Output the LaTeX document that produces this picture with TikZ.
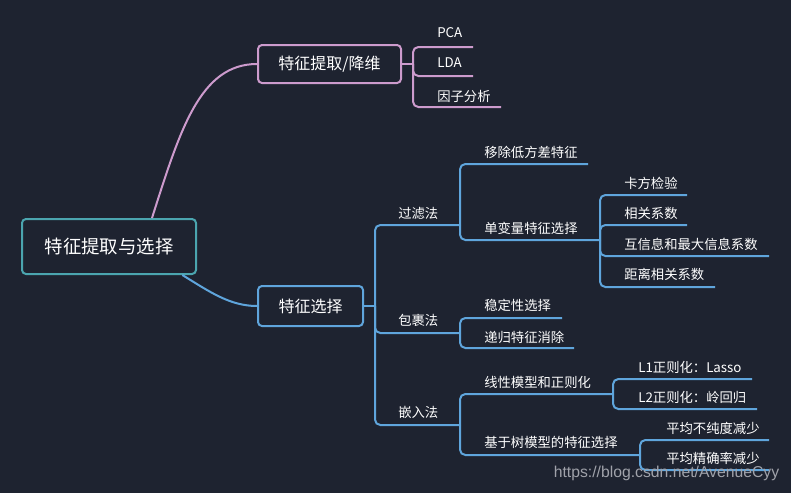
\documentclass[tikz,border=0pt]{standalone}
\usepackage{fontspec}
\setmainfont{Noto Sans CJK SC}
\newfontfamily\wmfont{Liberation Sans}
\definecolor{bg}{RGB}{30,35,48}
\definecolor{pinkc}{RGB}{205,155,205}
\definecolor{bluec}{RGB}{95,165,220}
\definecolor{tealc}{RGB}{75,165,175}
\definecolor{wmc}{RGB}{160,162,170}
\begin{document}
\begin{tikzpicture}[x=0.75pt,y=-0.75pt,
  box/.style={draw,line width=1.5pt,rounded corners=3pt,text=white,inner sep=0,font=\fontsize{12}{14}\selectfont},
  leaf/.style={text=white,font=\fontsize{10}{12}\selectfont,inner sep=0,anchor=west},
  pl/.style={draw=pinkc,line width=1.5pt,rounded corners=4pt},
  bl/.style={draw=bluec,line width=1.5pt,rounded corners=4pt}]
\fill[bg] (0,0) rectangle (791,493);
\useasboundingbox (0,0) rectangle (791,493);

% main boxes
\node[box,draw=tealc,minimum width=130.5pt,minimum height=41.25pt,font=\fontsize{13.8}{16}\selectfont] (root) at (109,246.5) {特征提取与选择};
\node[box,draw=pinkc,minimum width=107.25pt,minimum height=28.5pt] (fe) at (329.5,64) {特征提取/降维};
\node[box,draw=bluec,minimum width=78.75pt,minimum height=30pt] (fs) at (310.5,306) {特征选择};

\draw[pinkc,line width=1.5pt] ([xshift=32.25pt]root.north) .. controls (180,130) and (200,64) .. (fe.west);
\draw[bluec,line width=1.5pt] ([xshift=55pt]root.south) .. controls (210,292) and (230,306) .. (fs.west);

% pink branch
\coordinate (pb) at (413,64);
\coordinate (pcaU) at (473,47);
\coordinate (ldaU) at (473,76);
\coordinate (yzU) at (501,107);
\draw[pl] (fe.east) -- (pb);
\draw[pl] (pb) |- (pcaU);
\draw[pl] (pb) |- (ldaU);
\draw[pl] (pb) |- (yzU);
\node[leaf] (pca) at (437,33) {PCA};
\node[leaf] (lda) at (437,63) {LDA};
\node[leaf] (yz) at (437,96) {因子分析};

% blue level 2
\coordinate (sb) at (375,306);
\coordinate (glU) at (460,225);
\coordinate (bgU) at (460,333);
\coordinate (qrU) at (460,425);
\draw[bl] (fs.east) -- (sb);
\draw[bl] (sb) |- (glU);
\draw[bl] (sb) |- (bgU);
\draw[bl] (sb) |- (qrU);
\node[leaf] (gl) at (398,213) {过滤法};
\node[leaf] (bg) at (398,320) {包裹法};
\node[leaf] (qr) at (398,412) {嵌入法};

% filter children
\coordinate (ycU) at (588,164);
\coordinate (dbU) at (600,240);
\draw[bl] (glU) |- (ycU);
\draw[bl] (glU) |- (dbU);
\node[leaf] (yc) at (484,152) {移除低方差特征};
\node[leaf] (db) at (484,228) {单变量特征选择};

\coordinate (kfU) at (687,195);
\coordinate (xgU) at (687,225);
\coordinate (hxU) at (769,256);
\coordinate (jlU) at (715,287);
\draw[bl] (dbU) |- (kfU);
\draw[bl] (dbU) |- (xgU);
\draw[bl] (dbU) |- (hxU);
\draw[bl] (dbU) |- (jlU);
\node[leaf] (kf) at (624,183) {卡方检验};
\node[leaf] (xg) at (624,213) {相关系数};
\node[leaf] (hx) at (624,244) {互信息和最大信息系数};
\node[leaf] (jl) at (624,274) {距离相关系数};

% wrapper children
\coordinate (wdU) at (562,318);
\coordinate (dgU) at (574,348);
\draw[bl] (bgU) |- (wdU);
\draw[bl] (bgU) |- (dgU);
\node[leaf] (wd) at (484,305) {稳定性选择};
\node[leaf] (dg) at (484,337) {递归特征消除};

% embedded children
\coordinate (xxU) at (613,394);
\coordinate (jyU) at (640,455);
\draw[bl] (qrU) |- (xxU);
\draw[bl] (qrU) |- (jyU);
\node[leaf] (xx) at (484,382) {线性模型和正则化};
\node[leaf] (jy) at (484,442) {基于树模型的特征选择};

\coordinate (l1U) at (752,379);
\coordinate (l2U) at (757,409);
\draw[bl] (xxU) |- (l1U);
\draw[bl] (xxU) |- (l2U);
\node[leaf] (l1) at (638,367) {L1正则化：Lasso};
\node[leaf] (l2) at (638,397) {L2正则化：岭回归};

\coordinate (pjU) at (769,440);
\coordinate (jqU) at (769,470);
\draw[bl] (jyU) |- (pjU);
\draw[bl] (jyU) |- (jqU);
\node[leaf] (pj) at (666,428) {平均不纯度减少};
\node[leaf] (jq) at (666,458) {平均精确率减少};

% watermark
\node[text=wmc,font=\wmfont\fontsize{11.8}{13}\selectfont,inner sep=0] (wm) at (666.5,473) {https://blog.csdn.net/AvenueCyy};
\end{tikzpicture}
\end{document}
